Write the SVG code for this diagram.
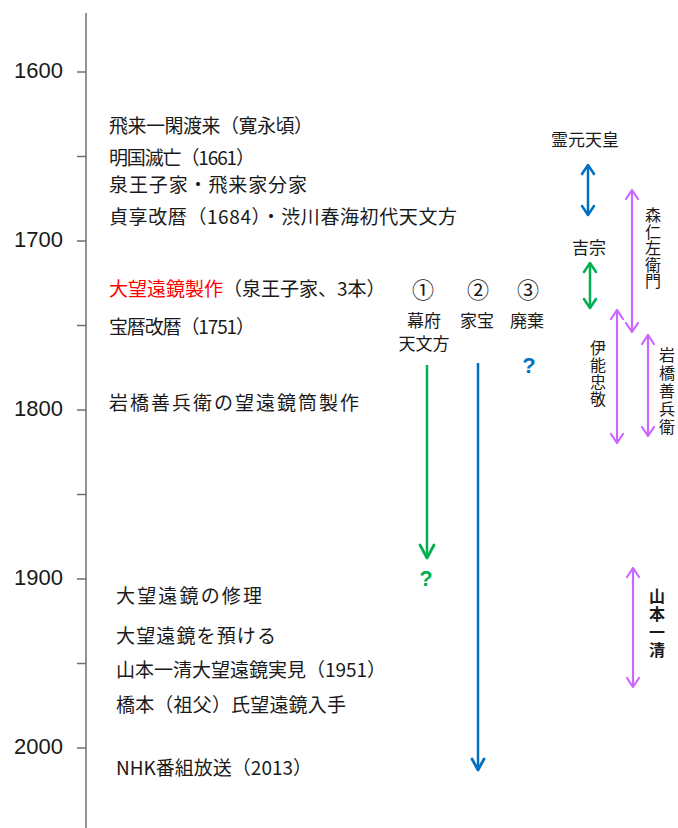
<svg xmlns="http://www.w3.org/2000/svg" width="678" height="828" viewBox="0 0 678 828">
<style>
.yr{font-family:"Liberation Sans","DejaVu Sans",sans-serif;font-size:22px;fill:#1a1a1a;text-anchor:end}
.jp{font-family:"Noto Sans CJK JP","Noto Sans",sans-serif;font-size:19px;fill:#1a1a1a}
.sm{font-family:"Noto Sans CJK JP","Noto Sans",sans-serif;font-size:17px;fill:#1a1a1a;text-anchor:middle}
.num{font-family:"Noto Sans CJK JP","Noto Sans",sans-serif;font-size:22px;fill:#1a1a1a;text-anchor:middle}
.vt{font-family:"Noto Sans CJK JP","Noto Sans",sans-serif;font-size:16px;fill:#1a1a1a;writing-mode:vertical-rl;text-orientation:upright}
.red{fill:#FF0000}
.axis{stroke:#6f6f6f;stroke-width:1.5;fill:none}
.blue{stroke:#0070C0;stroke-width:2.5;fill:none}
.green{stroke:#00B050;stroke-width:2.5;fill:none}
.violet{stroke:#CC66FF;stroke-width:2.2;fill:none}
.q{font-family:"Liberation Sans","DejaVu Sans",sans-serif;font-size:22px;font-weight:bold;text-anchor:middle}
</style>
<defs>
<marker id="ah-blue" markerUnits="userSpaceOnUse" markerWidth="20" markerHeight="20" viewBox="0 0 20 20" refX="16" refY="10" orient="auto-start-reverse"><path d="M7,4 L16,10 L7,16" fill="none" stroke="#0070C0" stroke-width="2.5" stroke-linecap="round" stroke-linejoin="round"/></marker>
<marker id="ah-green" markerUnits="userSpaceOnUse" markerWidth="20" markerHeight="20" viewBox="0 0 20 20" refX="16" refY="10" orient="auto-start-reverse"><path d="M7,4 L16,10 L7,16" fill="none" stroke="#00B050" stroke-width="2.5" stroke-linecap="round" stroke-linejoin="round"/></marker>
<marker id="ah-violet" markerUnits="userSpaceOnUse" markerWidth="20" markerHeight="20" viewBox="0 0 20 20" refX="16" refY="10" orient="auto-start-reverse"><path d="M7,4 L16,10 L7,16" fill="none" stroke="#CC66FF" stroke-width="2.2" stroke-linecap="round" stroke-linejoin="round"/></marker>
<marker id="ah-green-lg" markerUnits="userSpaceOnUse" markerWidth="24" markerHeight="24" viewBox="0 0 24 24" refX="20" refY="12" orient="auto-start-reverse"><path d="M7,5 L20,12 L7,19" fill="none" stroke="#00B050" stroke-width="2.8" stroke-linecap="round" stroke-linejoin="round"/></marker>
<marker id="ah-blue-lg" markerUnits="userSpaceOnUse" markerWidth="24" markerHeight="24" viewBox="0 0 24 24" refX="20" refY="12" orient="auto-start-reverse"><path d="M9,6 L20,12 L9,18" fill="none" stroke="#0070C0" stroke-width="2.8" stroke-linecap="round" stroke-linejoin="round"/></marker>
</defs>
<rect width="678" height="828" fill="#ffffff"/>

<g id="axis">
<line class="axis" x1="86" y1="13" x2="86" y2="828"/>
<path class="axis" d="M77,72H86M77,156.5H86M77,241H86M77,325.5H86M77,410H86M77,494.5H86M77,579H86M77,663.5H86M77,748H86"/>
<text class="yr" x="63" y="78">1600</text>
<text class="yr" x="63" y="247">1700</text>
<text class="yr" x="63" y="416">1800</text>
<text class="yr" x="63" y="585">1900</text>
<text class="yr" x="63" y="754">2000</text>
</g>

<g id="events">
<text class="jp" x="109" y="133" textLength="204">飛来一閑渡来（寛永頃）</text>
<text class="jp" x="109" y="165" textLength="146">明国滅亡（1661）</text>
<text class="jp" x="109" y="192" textLength="198">泉王子家・飛来家分家</text>
<text class="jp" x="109" y="224" textLength="348">貞享改暦（1684）・渋川春海初代天文方</text>
<text class="jp" x="109" y="296"><tspan class="red">大望遠鏡製作</tspan>（泉王子家、3本）</text>
<text class="jp" x="109" y="334" textLength="146">宝暦改暦（1751）</text>
<text class="jp" x="109" y="410" textLength="250">岩橋善兵衛の望遠鏡筒製作</text>
<text class="jp" x="116" y="603" textLength="146">大望遠鏡の修理</text>
<text class="jp" x="116" y="643" textLength="160">大望遠鏡を預ける</text>
<text class="jp" x="116" y="677" textLength="270">山本一清大望遠鏡実見（1951）</text>
<text class="jp" x="116" y="712" textLength="230">橋本（祖父）氏望遠鏡入手</text>
<text class="jp" x="116" y="775">NHK番組放送（2013）</text>
</g>

<g id="telescopes">
<text class="num" x="423" y="298">①</text>
<text class="num" x="478" y="298">②</text>
<text class="num" x="528" y="298">③</text>
<text class="sm" x="424" y="327">幕府</text>
<text class="sm" x="424" y="350">天文方</text>
<text class="sm" x="477" y="327">家宝</text>
<text class="sm" x="527" y="327">廃棄</text>
<text class="q" x="529" y="373" fill="#0070C0">?</text>
<text class="q" x="426" y="586" fill="#00B050">?</text>
</g>

<g id="persons">
<text class="sm" x="585" y="146">霊元天皇</text>
<text class="sm" x="589" y="254">吉宗</text>
<text class="vt" x="653" y="207" letter-spacing="0.6">森仁左衛門</text>
<text class="vt" x="598" y="340" letter-spacing="1">伊能忠敬</text>
<text class="vt" x="667" y="347" letter-spacing="2">岩橋善兵衛</text>
<text class="vt" x="657" y="588" letter-spacing="2" font-weight="bold">山本一清</text>
</g>

<g id="connectors">
<line class="green" x1="427" y1="365" x2="427" y2="558" marker-end="url(#ah-green-lg)"/>
<line class="blue" x1="478" y1="363" x2="478" y2="770" marker-end="url(#ah-blue-lg)"/>
<line class="blue" x1="588" y1="165" x2="588" y2="215" marker-start="url(#ah-blue)" marker-end="url(#ah-blue)"/>
<line class="green" x1="590" y1="263" x2="590" y2="308" marker-start="url(#ah-green)" marker-end="url(#ah-green)"/>
<line class="violet" x1="632" y1="190" x2="632" y2="332" marker-start="url(#ah-violet)" marker-end="url(#ah-violet)"/>
<line class="violet" x1="617" y1="310" x2="617" y2="443" marker-start="url(#ah-violet)" marker-end="url(#ah-violet)"/>
<line class="violet" x1="648" y1="335" x2="648" y2="436" marker-start="url(#ah-violet)" marker-end="url(#ah-violet)"/>
<line class="violet" x1="633" y1="568" x2="633" y2="687" marker-start="url(#ah-violet)" marker-end="url(#ah-violet)"/>
</g>
</svg>
